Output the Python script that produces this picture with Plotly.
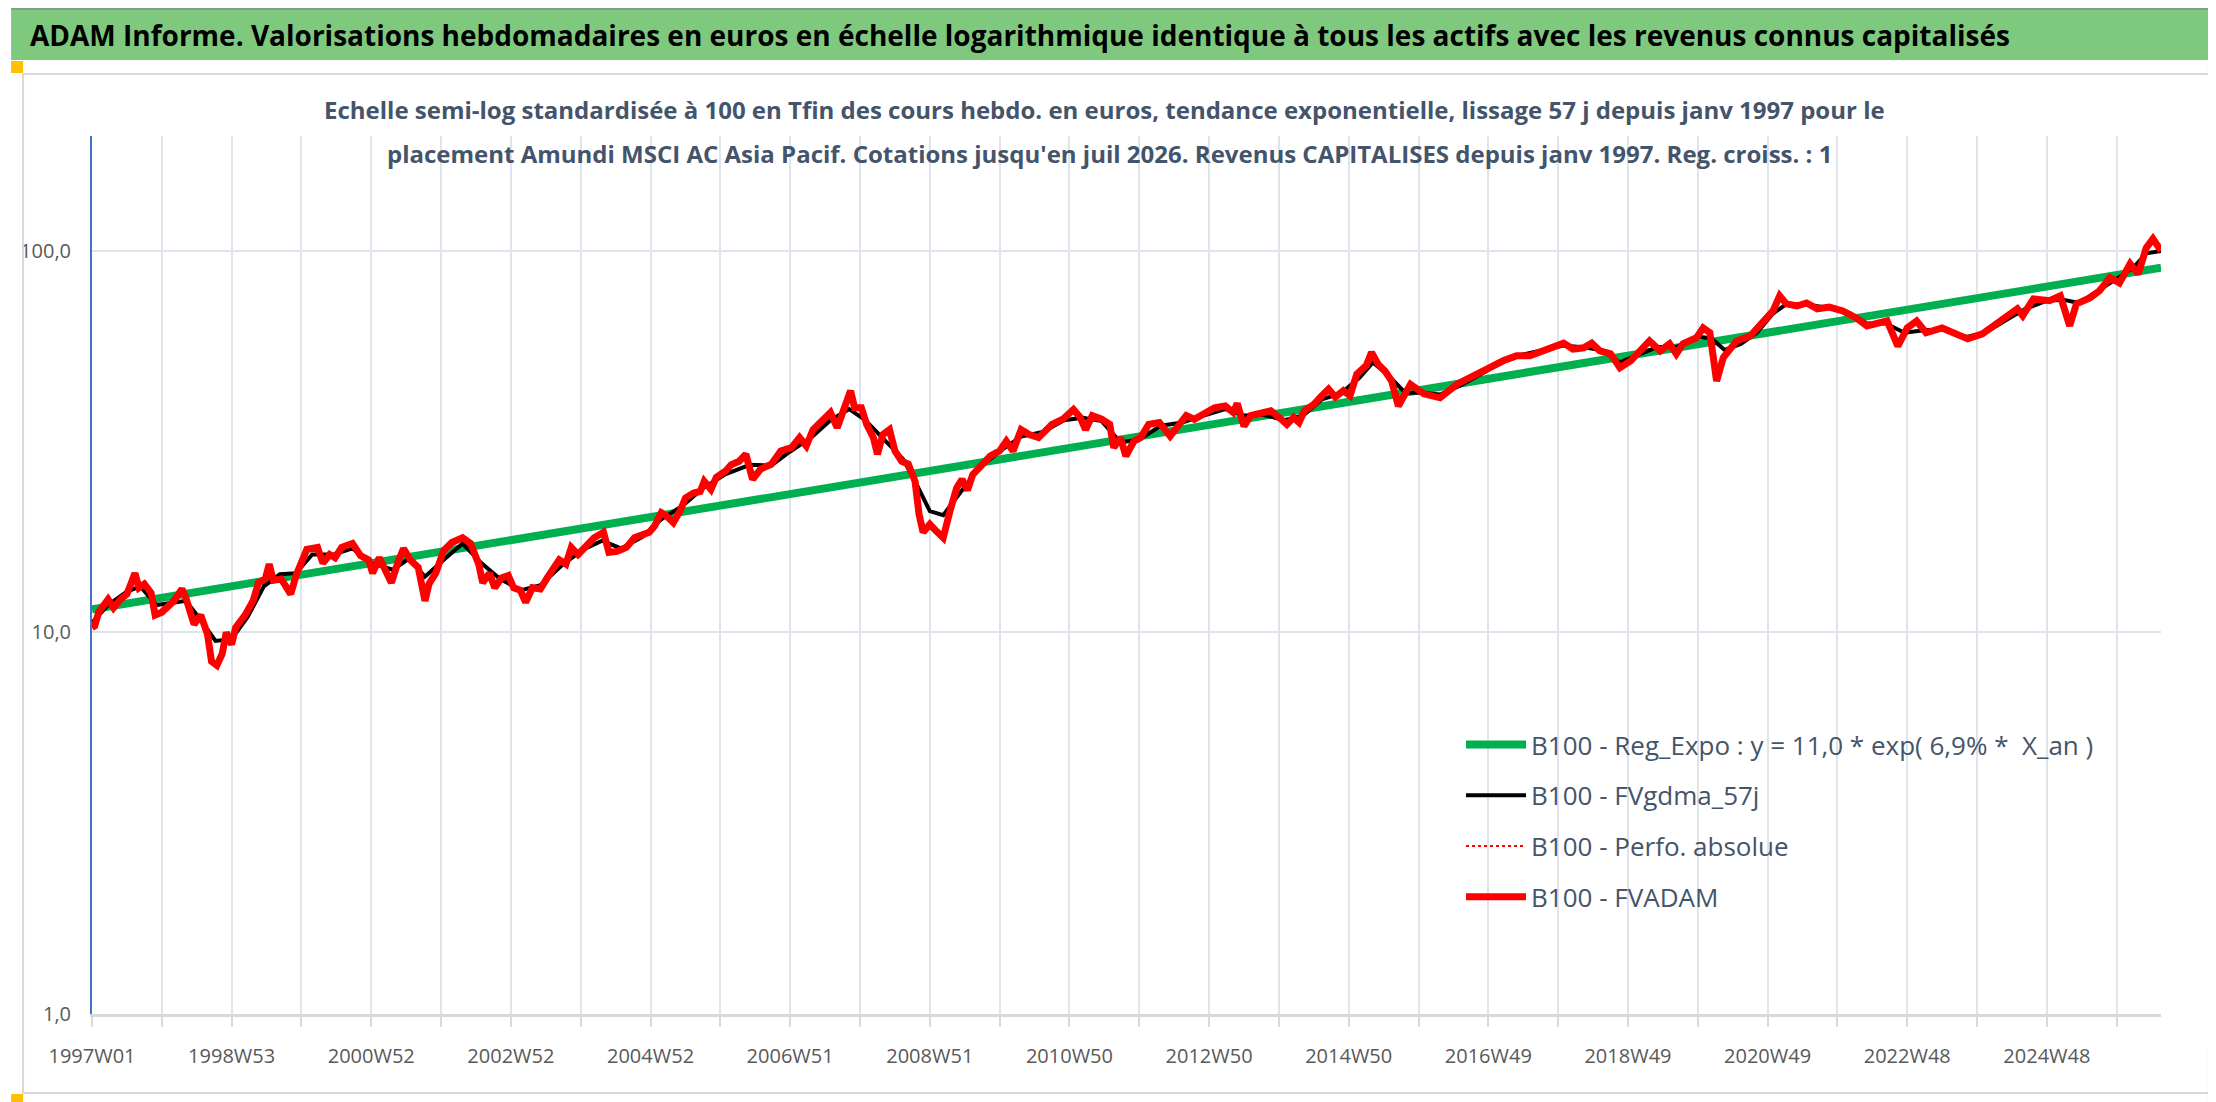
import plotly.graph_objects as go

# ── DATA ─────────────────────────────────────────────────────────
# x = index of the week since 1997W01 (category axis of the original)
tick_wk = [0, 104, 208, 312, 416, 520, 624, 728, 832, 936, 1040, 1144, 1248, 1352, 1456]
tick_txt = ['1997W01', '1998W53', '2000W52', '2002W52', '2004W52', '2006W51', '2008W51',
            '2010W50', '2012W50', '2014W50', '2016W49', '2018W49', '2020W49', '2022W48', '2024W48']
last_wk = 1541

# FVADAM (thick red) and Perfo. absolue (dotted red) - same path on the chart
fvadam_wk = [0, 2, 5, 12, 16, 21, 26, 29, 32, 35, 39, 44, 47, 52, 56, 61, 67, 70, 76, 81,
             86, 89, 93, 97, 100, 104, 107, 114, 120, 124, 129, 132, 135, 141, 148, 152, 160, 168, 172, 177,
             181, 186, 194, 200, 206, 209, 214, 218, 223, 228, 232, 237, 243, 248, 251, 256, 262, 268, 276, 282,
             288, 291, 296, 300, 305, 310, 314, 319, 323, 328, 334, 339, 348, 353, 357, 362, 368, 374, 381, 385,
             391, 398, 404, 410, 415, 419, 424, 428, 433, 438, 442, 448, 453, 456, 461, 465, 472, 476, 482, 487,
             492, 498, 506, 513, 521, 527, 532, 537, 544, 550, 555, 560, 565, 568, 573, 577, 582, 585, 589, 594,
             598, 603, 608, 613, 616, 619, 624, 629, 634, 639, 644, 648, 652, 656, 663, 669, 676, 681, 686, 692,
             698, 705, 715, 723, 731, 736, 740, 745, 752, 758, 761, 766, 770, 776, 781, 787, 795, 803, 808, 815,
             821, 828, 836, 844, 850, 853, 858, 863, 870, 878, 884, 890, 895, 899, 903, 910, 916, 921, 926, 932,
             937, 942, 949, 953, 958, 963, 968, 973, 978, 982, 992, 1004, 1017, 1026, 1034, 1041, 1051, 1061, 1071, 1081,
             1088, 1096, 1103, 1111, 1117, 1123, 1131, 1136, 1138, 1146, 1151, 1160, 1168, 1175, 1180, 1185, 1195, 1200, 1205, 1210,
             1215, 1225, 1235, 1245, 1252, 1257, 1262, 1270, 1277, 1285, 1294, 1304, 1314, 1322, 1337, 1345, 1352, 1359, 1366, 1378,
             1389, 1397, 1408, 1416, 1426, 1434, 1438, 1446, 1458, 1466, 1473, 1478, 1488, 1495, 1503, 1510, 1518, 1524, 1530, 1535,
             1541]
fvadam_val = [10.3, 10.4, 11.3, 12.2, 11.6, 12.2, 12.6, 13.4, 14.3, 13.1, 13.4, 12.7, 11.1, 11.3, 11.6, 12.1, 13.0, 12.3, 10.5, 11.1,
              9.9, 8.4, 8.2, 8.8, 10.0, 9.3, 10.3, 11.1, 12.1, 13.5, 13.8, 15.1, 13.7, 13.8, 12.6, 14.1, 16.5, 16.7, 15.2, 16.0,
              15.7, 16.7, 17.1, 15.9, 15.5, 14.3, 15.7, 14.8, 13.5, 15.3, 16.6, 15.5, 14.8, 12.1, 13.4, 14.3, 16.4, 17.2, 17.7, 17.1,
              15.1, 13.5, 14.3, 13.1, 13.9, 14.1, 13.1, 12.9, 12.0, 13.1, 13.0, 13.9, 15.5, 15.1, 16.7, 16.0, 16.8, 17.7, 18.3, 16.2,
              16.3, 16.7, 17.7, 18.1, 18.3, 19.0, 20.6, 20.2, 19.4, 20.8, 22.5, 23.2, 23.4, 24.9, 23.7, 25.5, 26.5, 27.5, 28.1, 29.3,
              25.2, 26.8, 27.6, 29.9, 30.5, 32.4, 30.8, 34.0, 35.8, 37.7, 34.4, 38.8, 43.0, 38.8, 38.8, 35.1, 32.4, 29.3, 33.0, 34.0,
              29.9, 28.1, 27.6, 24.9, 20.4, 18.3, 19.2, 18.4, 17.7, 20.8, 23.9, 25.2, 23.6, 25.9, 27.6, 29.0, 29.9, 31.7, 29.9, 34.0,
              33.0, 32.4, 35.1, 36.2, 38.4, 36.6, 34.0, 37.0, 36.2, 35.1, 30.5, 32.4, 29.0, 31.7, 32.4, 35.1, 35.5, 32.7, 34.4, 37.0,
              36.2, 37.4, 38.8, 39.2, 37.7, 39.8, 34.7, 37.0, 37.4, 38.1, 36.6, 35.1, 36.6, 35.5, 38.1, 39.6, 41.7, 43.4, 41.4, 43.0,
              41.7, 47.5, 50.0, 54.2, 50.4, 48.4, 45.6, 39.2, 42.2, 44.7, 42.2, 41.2, 44.8, 46.4, 47.6, 49.4, 51.5, 53.1, 53.1, 54.7,
              56.3, 57.3, 55.3, 55.7, 57.3, 54.7, 53.7, 50.6, 49.4, 51.5, 54.0, 58.1, 54.7, 57.1, 53.7, 57.1, 59.2, 62.8, 61.0, 45.6,
              52.5, 58.1, 59.8, 65.5, 69.6, 76.2, 72.6, 71.7, 73.0, 70.5, 71.2, 69.6, 66.7, 63.6, 65.5, 56.3, 62.8, 65.5, 61.0, 62.8,
              60.6, 58.8, 60.6, 63.6, 66.7, 70.5, 67.6, 74.8, 74.0, 76.2, 63.6, 72.6, 75.3, 78.5, 85.0, 82.4, 92.5, 87.0, 101.8, 107.5,
              100.0]

# FVgdma_57j (black, smoothed)
gdma_wk = [0, 12, 26, 36, 48, 60, 70, 80, 92, 104, 116, 128, 140, 152, 164, 180, 194, 208, 224, 236,
           248, 262, 276, 290, 304, 320, 334, 350, 366, 380, 394, 410, 424, 440, 456, 472, 490, 506, 520, 536,
           550, 564, 576, 590, 604, 614, 624, 634, 646, 660, 676, 692, 708, 724, 738, 752, 766, 780, 796, 812,
           828, 844, 858, 872, 888, 902, 916, 930, 944, 954, 966, 978, 990, 1004, 1020, 1034, 1050, 1066, 1082, 1096,
           1112, 1124, 1138, 1152, 1166, 1180, 1196, 1206, 1216, 1228, 1240, 1252, 1262, 1276, 1292, 1308, 1322, 1336, 1350, 1366,
           1380, 1396, 1410, 1426, 1440, 1456, 1468, 1480, 1494, 1508, 1520, 1530, 1541]
gdma_val = [10.6, 11.8, 12.8, 13.2, 11.8, 12.0, 12.1, 10.9, 9.5, 9.6, 11.0, 13.2, 14.2, 14.3, 16.0, 16.0, 16.6, 15.2, 14.6, 15.6,
            14.0, 15.5, 17.1, 15.2, 13.8, 12.9, 13.3, 15.0, 16.5, 17.4, 16.6, 17.8, 19.8, 21.5, 24.0, 26.0, 27.5, 27.4, 29.8, 32.5,
            36.0, 38.5, 36.0, 32.0, 28.5, 24.5, 20.8, 20.3, 23.0, 26.8, 29.8, 32.6, 33.5, 36.0, 36.5, 35.8, 31.5, 32.0, 34.8, 35.5,
            37.0, 38.5, 37.0, 37.2, 36.0, 37.0, 40.8, 42.3, 46.5, 51.0, 47.0, 42.5, 42.5, 42.0, 44.5, 47.5, 51.0, 53.5, 55.0, 56.5,
            55.8, 55.0, 51.0, 53.5, 56.0, 56.0, 59.5, 59.0, 55.0, 57.0, 61.0, 68.5, 72.5, 72.5, 71.0, 69.0, 64.5, 64.5, 61.0, 62.0,
            62.0, 59.5, 61.0, 66.0, 70.5, 74.0, 74.5, 73.0, 78.5, 84.5, 90.0, 98.5, 100.0]

# Reg_Expo (green exponential trend, straight on the log scale)
reg_wk = [0, 1541]
reg_val = [11.5, 90.3]

# ── LAYOUT HELPERS ───────────────────────────────────────────────
W, H = 2216, 1102
ML, MR, MT, MB = 81, 63, 128, 96
PW, PH = W - ML - MR, H - MT - MB


def px_x(px):
    return (px - ML) / PW


def px_y(py):
    return (H - MB - py) / PH


def box(x0, y0, x1, y1, fill=None, line=None, lw=0):
    return dict(type='rect', xref='paper', yref='paper', layer='above',
                x0=px_x(x0), x1=px_x(x1), y0=px_y(y1), y1=px_y(y0),
                fillcolor=fill or 'rgba(0,0,0,0)',
                line=dict(color=line or 'rgba(0,0,0,0)', width=lw))


TXT = '#44546A'
GRID = '#E0E3E9'
FONT = 'Open Sans'

# ── PLOT ─────────────────────────────────────────────────────────
fig = go.Figure()

fig.add_trace(go.Scatter(
    x=reg_wk, y=reg_val, mode='lines', legendgroup='a',
    name='B100 - Reg_Expo : y = 11,0 * exp( 6,9% *  X_an )',
    line=dict(color='#00B050', width=8)))

fig.add_trace(go.Scatter(
    x=gdma_wk, y=gdma_val, mode='lines', legendgroup='b',
    name='B100 - FVgdma_57j', line=dict(color='black', width=4)))

fig.add_trace(go.Scatter(
    x=fvadam_wk, y=fvadam_val, mode='lines', legendgroup='c',
    name='B100 - Perfo. absolue', line=dict(color='#FF0000', width=2, dash='dot')))

fig.add_trace(go.Scatter(
    x=fvadam_wk, y=fvadam_val, mode='lines', legendgroup='d',
    name='B100 - FVADAM', line=dict(color='#FF0000', width=7)))

shapes = [
    box(0, 0, W, 52, fill='#7FC97F'),
    box(0, 0, W, 2, fill='#8A9A8A'),
    box(12, 66, 2206, 1085, line='#D9D9D9', lw=2),
    box(0, 53, 12, 65, fill='#FFC000'),
    box(2200, 52, W, 68, fill='#FFC000'),
    box(0, 1086, 12, 1100, fill='#FFC000'),
    box(2200, 1040, W, 1100, fill='#FFC000'),
    box(0, 1099, W, H, fill='#808080'),
]

annotations = [
    dict(text='<b>ADAM Informe. Valorisations hebdomadaires en euros en échelle logarithmique '
              'identique à tous les actifs avec les revenus connus capitalisés</b>',
         x=px_x(17), y=px_y(27), xanchor='left', yanchor='middle',
         font=dict(family=FONT, size=28, color='black')),
    dict(text='<b>Echelle semi-log standardisée à 100 en Tfin des cours hebdo. en euros, tendance '
              'exponentielle, lissage 57 j depuis janv 1997 pour le</b>',
         x=px_x(1095), y=px_y(102), xanchor='center', yanchor='middle',
         font=dict(family=FONT, size=24, color=TXT)),
    dict(text="<b>placement Amundi MSCI AC Asia Pacif. Cotations jusqu'en juil 2026. "
              "Revenus CAPITALISES depuis janv 1997. Reg. croiss. : 1</b>",
         x=px_x(1100), y=px_y(145), xanchor='center', yanchor='middle',
         font=dict(family=FONT, size=24, color=TXT)),
]
for a in annotations:
    a.update(xref='paper', yref='paper', showarrow=False)

fig.update_layout(
    width=W, height=H,
    margin=dict(l=ML, r=MR, t=MT, b=MB, pad=0),
    paper_bgcolor='white', plot_bgcolor='white',
    font=dict(family=FONT, color='#595959'),
    shapes=shapes, annotations=annotations,
    showlegend=True,
    legend=dict(x=px_x(1452), y=px_y(713), xanchor='left', yanchor='top',
                font=dict(family=FONT, size=26, color=TXT),
                bgcolor='rgba(0,0,0,0)', tracegroupgap=14, itemwidth=60))

fig.update_xaxes(
    range=[0, last_wk], showline=True, linecolor='#D9D9D9', linewidth=3,
    tickmode='array', tickvals=tick_wk, ticktext=tick_txt,
    ticks='outside', ticklen=10, tickcolor='#D9D9D9', tickwidth=2,
    showgrid=True, gridcolor=GRID, gridwidth=2, zeroline=False,
    minor=dict(tick0=0, dtick=52, showgrid=True, gridcolor=GRID, gridwidth=2,
               ticks='outside', ticklen=10, tickcolor='#D9D9D9', tickwidth=2),
    tickfont=dict(family=FONT, size=20, color='#595959'), ticklabelstandoff=12)

fig.update_yaxes(
    type='log', range=[0, 2.301], showline=True, linecolor='#4472C4', linewidth=2,
    tickmode='array', tickvals=[1, 10, 100], ticktext=['1,0', '10,0', '100,0'],
    showgrid=True, gridcolor=GRID, gridwidth=2, zeroline=False,
    tickfont=dict(family=FONT, size=20, color='#595959'), ticklabelstandoff=15)

fig.write_html('out.html')
